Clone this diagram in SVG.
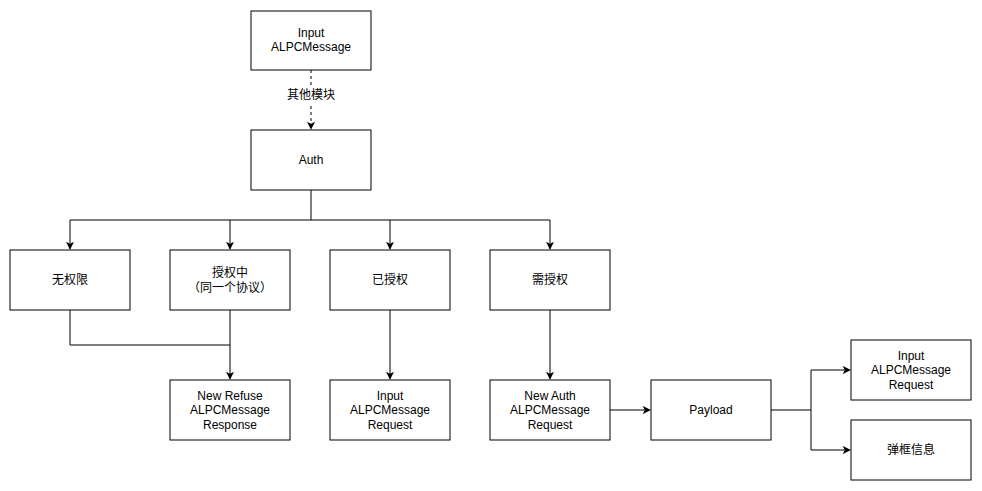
<svg xmlns="http://www.w3.org/2000/svg" width="982" height="491" viewBox="0 0 982 491">
<style>
.box{fill:#fff;stroke:#000;stroke-width:1}
.t{font-family:"Liberation Sans","Noto Sans CJK SC",sans-serif;font-size:12px;fill:#000;text-anchor:middle}
.e{fill:none;stroke:#000;stroke-width:1}
.d{stroke-dasharray:3 3}
</style>
<defs>
<marker id="a" viewBox="0 0 10 10" refX="9" refY="5" markerWidth="8" markerHeight="8" markerUnits="userSpaceOnUse" orient="auto">
<path d="M0,0 L10,5 L0,10 L2.5,5 Z" fill="#000"/>
</marker>
</defs>
<rect width="982" height="491" fill="#fff"/>
<g id="connectors">
<path class="e d" d="M311,70 V129" marker-end="url(#a)"/>
<rect x="287" y="87" width="48" height="16" fill="#fff"/>
<text class="t" x="311" y="99">其他模块</text>
<path class="e" d="M311,190 V220 H70 V249" marker-end="url(#a)"/>
<path class="e" d="M230,220 V249" marker-end="url(#a)"/>
<path class="e" d="M311,220 H390 V249" marker-end="url(#a)"/>
<path class="e" d="M390,220 H550 V249" marker-end="url(#a)"/>
<path class="e" d="M70,310 V345 H230"/>
<path class="e" d="M230,310 V379" marker-end="url(#a)"/>
<path class="e" d="M390,310 V379" marker-end="url(#a)"/>
<path class="e" d="M550,310 V379" marker-end="url(#a)"/>
<path class="e" d="M610,410 H650" marker-end="url(#a)"/>
<path class="e" d="M771,410 H811 V370 H850" marker-end="url(#a)"/>
<path class="e" d="M811,410 V450 H850" marker-end="url(#a)"/>
</g>
<g id="n-input"><rect class="box" x="251" y="11" width="120" height="59"/><text class="t" x="311" y="37">Input</text><text class="t" x="311" y="51">ALPCMessage</text></g>
<g id="n-auth"><rect class="box" x="251" y="130" width="120" height="60"/><text class="t" x="311" y="164">Auth</text></g>
<g id="n-noperm"><rect class="box" x="10" y="250" width="120" height="60"/><text class="t" x="70" y="284">无权限</text></g>
<g id="n-authing"><rect class="box" x="170" y="250" width="120" height="60"/><text class="t" x="230" y="277">授权中</text><text class="t" x="230" y="292">（同一个协议）</text></g>
<g id="n-authed"><rect class="box" x="330" y="250" width="120" height="60"/><text class="t" x="390" y="284">已授权</text></g>
<g id="n-needauth"><rect class="box" x="490" y="250" width="120" height="60"/><text class="t" x="550" y="284">需授权</text></g>
<g id="n-refuse"><rect class="box" x="170" y="380" width="120" height="60"/><text class="t" x="230" y="400">New Refuse</text><text class="t" x="230" y="414">ALPCMessage</text><text class="t" x="230" y="429">Response</text></g>
<g id="n-inreq"><rect class="box" x="330" y="380" width="120" height="60"/><text class="t" x="390" y="400">Input</text><text class="t" x="390" y="414">ALPCMessage</text><text class="t" x="390" y="429">Request</text></g>
<g id="n-newauth"><rect class="box" x="490" y="380" width="120" height="60"/><text class="t" x="550" y="400">New Auth</text><text class="t" x="550" y="414">ALPCMessage</text><text class="t" x="550" y="429">Request</text></g>
<g id="n-payload"><rect class="box" x="651" y="380" width="120" height="60"/><text class="t" x="711" y="414">Payload</text></g>
<g id="n-inreq2"><rect class="box" x="851" y="340" width="120" height="60"/><text class="t" x="911" y="360">Input</text><text class="t" x="911" y="374">ALPCMessage</text><text class="t" x="911" y="389">Request</text></g>
<g id="n-popup"><rect class="box" x="851" y="420" width="120" height="60"/><text class="t" x="911" y="454">弹框信息</text></g>
</svg>
